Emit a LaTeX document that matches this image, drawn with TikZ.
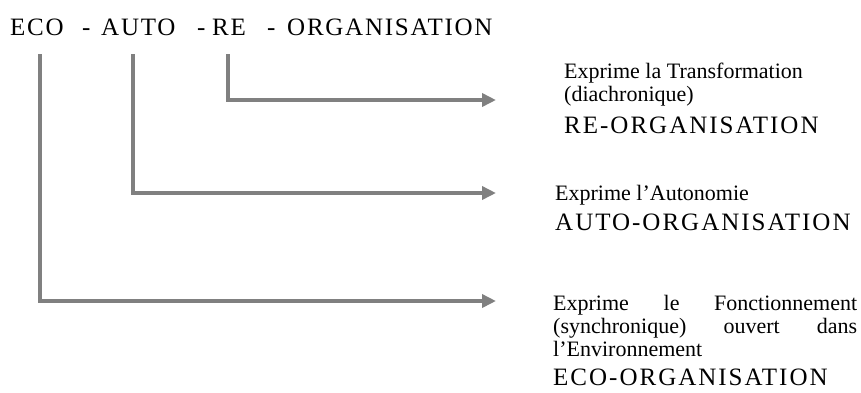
\documentclass[tikz,border=0pt]{standalone}
\usepackage{fontspec}
\setmainfont{Liberation Serif}
\usepackage{tikz}
\usetikzlibrary{arrows.meta,positioning}
\definecolor{linkgrey}{HTML}{808080}
\tikzset{
  title word/.style = {anchor=base west, inner sep=0pt,
                       font=\fontsize{25}{29}\selectfont\addfontfeature{LetterSpace=7}},
  gloss/.style      = {anchor=base west, inner sep=0pt, align=left,
                       font=\fontsize{22}{23}\selectfont},
  big word/.style   = {anchor=base west, inner sep=0pt,
                       font=\fontsize{25}{29}\selectfont\addfontfeature{LetterSpace=8}},
  link/.style       = {-{Triangle[length=14pt,width=13pt]}, linkgrey,
                       line width=3.5pt},
}

\begin{document}
\begin{tikzpicture}[x=1pt, y=-1pt]
  \useasboundingbox (0,0) rectangle (861,392);
  % the compound word
  \node[title word] (eco)  at (10,35)  {ECO};
  \node[title word] (sep1) at (82,35)  {-};
  \node[title word] (auto) at (101,35) {AUTO};
  \node[title word] (sep2) at (197,35) {-};
  \node[title word] (re)   at (212,35) {RE};
  \node[title word] (sep3) at (267,35) {-};
  \node[title word] (orga) at (287,35) {ORGANISATION};

  % glosses
  \node[gloss] (re gloss) at (564,101) {Exprime la Transformation\\(diachronique)};
  \node[big word] (re word) at (564,133) {RE-ORGANISATION};
  \node[gloss] (auto gloss) at (555,200) {Exprime l’Autonomie};
  \node[big word] (auto word) at (555,230) {AUTO-ORGANISATION};
  \node[gloss, text width=304pt] (eco gloss) at (553,310)
    {Exprime\hfill le\hfill Fonctionnement\\
     (synchronique)\hfill ouvert\hfill dans\\
     l’Environnement};
  \node[big word] (eco word) at (553,385) {ECO-ORGANISATION};

  % connectors
  \coordinate (re foot)   at (228,54);
  \coordinate (re tip)    at (496,100);
  \coordinate (auto foot) at (133,54);
  \coordinate (auto tip)  at (496,193);
  \coordinate (eco foot)  at (40,54);
  \coordinate (eco tip)   at (496,301);
  \draw[link] (re foot) |- (re tip);
  \draw[link] (auto foot) |- (auto tip);
  \draw[link] (eco foot) |- (eco tip);
\end{tikzpicture}
\end{document}
